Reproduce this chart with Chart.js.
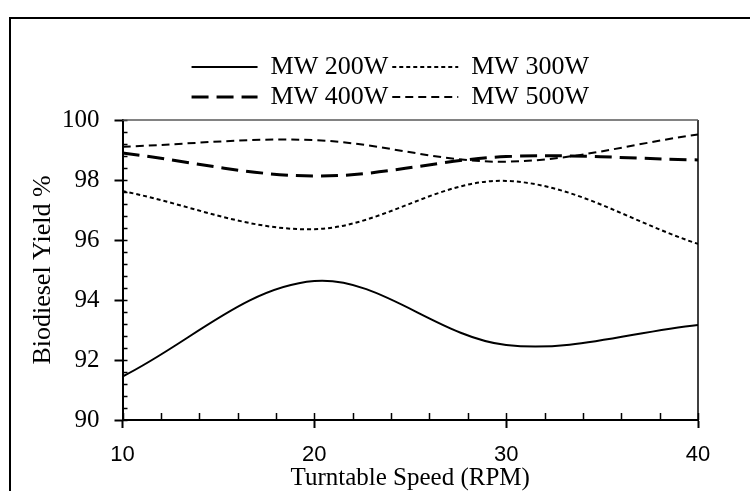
<!DOCTYPE html>
<html>
<head>
<meta charset="utf-8">
<title>Biodiesel Yield vs Turntable Speed</title>
<script src="https://cdn.jsdelivr.net/npm/chart.js"></script>
<style>
  html, body { margin: 0; padding: 0; background: #fff; overflow: hidden; }
  #wrap { position: relative; width: 750px; height: 491px; }
  #chart { position: absolute; left: 0; top: 0; }
  #frame {
    position: absolute; left: 9px; top: 17px; width: 800px; height: 600px;
    border: 2px solid #000; box-sizing: border-box; pointer-events: none;
  }
</style>
</head>
<body>
<div id="wrap">
  <canvas id="chart" width="750" height="491"></canvas>
  <div id="frame"></div>
</div>
<script>
// turntable speed (RPM)
const speeds = [10, 20, 30, 40];

// biodiesel yield % per microwave power
const mw200 = [91.45, 94.63, 92.5, 93.17];
const mw300 = [97.63, 96.36, 97.97, 95.87];
const mw400 = [98.9, 98.13, 98.78, 98.67];
const mw500 = [99.11, 99.33, 98.61, 99.52];

const seriesNames = ['MW 200W', 'MW 300W', 'MW 400W', 'MW 500W'];

const yMin = 90, yMax = 100, yStep = 2, yMinorStep = 0.4;
const xMin = 10, xMax = 40, xStep = 10, xMinorStep = 2;

const serif = 'Liberation Serif';

function pts(values) {
  return speeds.map((s, i) => ({ x: s, y: values[i] }));
}

function line(label, values, width, dash) {
  return {
    label,
    data: pts(values),
    borderColor: '#000',
    backgroundColor: '#000',
    borderWidth: width,
    borderDash: dash,
    pointRadius: 0,
    fill: false,
    tension: 0.35
  };
}

// minor ticks inside the plot + the top/right frame lines
const axisExtras = {
  id: 'axisExtras',
  afterLayout(chart) {
    // legend sits a bit left of the plot centre in the original
    const lg = chart.legend;
    if (!lg) return;
    lg.left -= 20;
    lg.right -= 20;
  },
  afterDraw(chart) {
    const { ctx, chartArea: a, scales: { x, y } } = chart;
    ctx.save();
    ctx.strokeStyle = '#000';
    ctx.lineWidth = 1.5;
    ctx.beginPath();
    for (let v = yMin; v <= yMax + 1e-6; v += yMinorStep) {
      const py = Math.round(y.getPixelForValue(v)) + 0.5;
      ctx.moveTo(a.left, py);
      ctx.lineTo(a.left + 5, py);
    }
    for (let v = xMin; v <= xMax + 1e-6; v += xMinorStep) {
      const px = Math.round(x.getPixelForValue(v)) + 0.5;
      ctx.moveTo(px, a.bottom);
      ctx.lineTo(px, a.bottom - 7);
    }
    ctx.stroke();

    ctx.beginPath();
    ctx.strokeStyle = '#000';
    ctx.lineWidth = 1.5;
    ctx.moveTo(a.right, a.top);
    ctx.lineTo(a.right, a.bottom);
    ctx.stroke();

    ctx.beginPath();
    ctx.strokeStyle = '#595959';
    ctx.lineWidth = 1.5;
    ctx.moveTo(a.left, a.top);
    ctx.lineTo(a.right, a.top);
    ctx.stroke();
    ctx.restore();
  }
};

new Chart(document.getElementById('chart'), {
  type: 'line',
  data: {
    datasets: [
      line(seriesNames[0], mw200, 2, []),
      line(seriesNames[1], mw300, 2, [4, 3]),
      line(seriesNames[2], mw400, 3, [17, 8]),
      line(seriesNames[3], mw500, 2, [8, 5])
    ]
  },
  options: {
    responsive: false,
    devicePixelRatio: 1,
    animation: false,
    layout: { padding: { left: 26, right: 52, top: 50, bottom: 0 } },
    plugins: {
      legend: {
        position: 'top',
        fullSize: false,
        labels: {
          usePointStyle: true,
          pointStyle: 'line',
          pointStyleWidth: 66,
          padding: 4,
          color: '#000',
          font: { family: serif, size: 26 },
          generateLabels(chart) {
            const items = Chart.defaults.plugins.legend.labels.generateLabels(chart);
            items.forEach((it) => {
              const ds = chart.data.datasets[it.datasetIndex];
              it.lineDash = ds.borderDash;
              it.lineWidth = ds.borderWidth;
            });
            return items;
          }
        }
      },
      tooltip: { enabled: false }
    },
    scales: {
      x: {
        type: 'linear',
        min: xMin,
        max: xMax,
        border: { color: '#000', width: 2 },
        grid: {
          drawOnChartArea: false,
          tickLength: 8,
          tickColor: '#000',
          tickWidth: 2
        },
        ticks: {
          stepSize: xStep,
          padding: 16,
          color: '#000',
          font: { family: 'Liberation Sans', size: 22, lineHeight: 1 }
        },
        title: {
          display: true,
          text: 'Turntable Speed (RPM)',
          color: '#000',
          padding: { top: -16, bottom: 0 },
          font: { family: serif, size: 25, lineHeight: 1 }
        }
      },
      y: {
        min: yMin,
        max: yMax,
        border: { color: '#000', width: 2 },
        grid: {
          drawOnChartArea: false,
          tickLength: 8,
          tickColor: '#000',
          tickWidth: 2
        },
        ticks: {
          stepSize: yStep,
          padding: 15,
          color: '#000',
          font: { family: serif, size: 25, lineHeight: 1 }
        },
        title: {
          display: true,
          text: 'Biodiesel Yield %',
          color: '#000',
          padding: { top: 4, bottom: -9 },
          font: { family: serif, size: 26, lineHeight: 1 }
        }
      }
    }
  },
  plugins: [axisExtras]
});
</script>
</body>
</html>
